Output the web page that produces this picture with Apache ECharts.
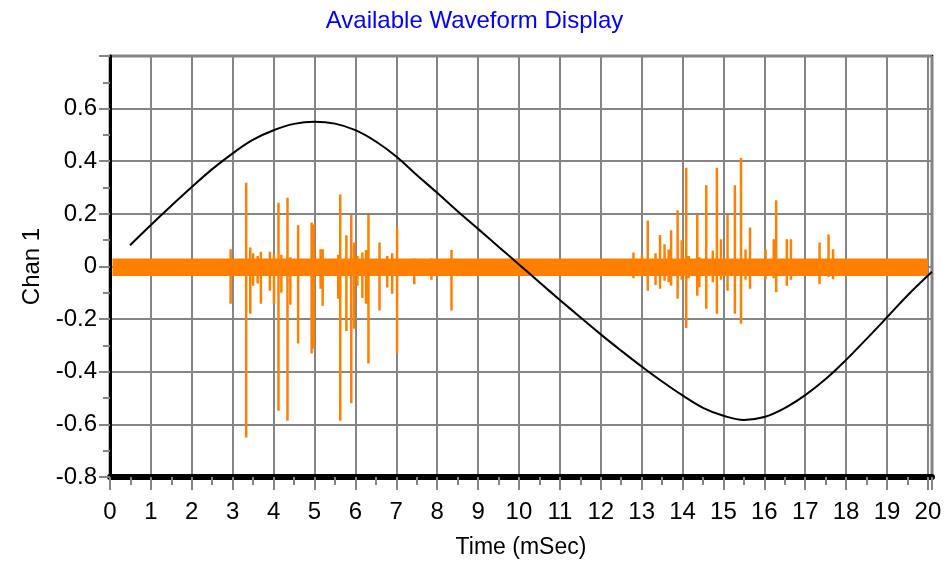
<!DOCTYPE html>
<html>
<head>
<meta charset="utf-8">
<script src="https://cdn.jsdelivr.net/npm/echarts@6/dist/echarts.min.js"></script>
<style>
html,body{margin:0;padding:0;background:#fff;}
#chart{width:949px;height:564px;}
</style>
</head>
<body>
<div id="chart"></div>
<script>
// ---- Data ----
const titleText = 'Available Waveform Display';
const xName = 'Time (mSec)';
const yName = 'Chan 1';

// Black reference waveform: [time (mSec), value]
const refTime  = [0.49, 1.0, 1.5, 2.0, 2.5, 3.0, 3.5, 4.0, 4.5, 5.0, 5.5, 6.0, 6.5, 7.0, 7.5, 8.0, 8.5, 9.0, 9.5, 10.0, 10.5, 11.0, 11.5, 12.0, 12.5, 13.0, 13.5, 14.0, 14.5, 15.0, 15.5, 16.0, 16.5, 17.0, 17.5, 18.0, 18.5, 19.0, 19.5, 20.1];
const refValue = [0.081, 0.158, 0.231, 0.302, 0.37, 0.43, 0.482, 0.518, 0.542, 0.55, 0.543, 0.518, 0.475, 0.418, 0.348, 0.28, 0.21, 0.143, 0.075, 0.008, -0.06, -0.127, -0.193, -0.258, -0.32, -0.38, -0.437, -0.49, -0.537, -0.567, -0.583, -0.572, -0.538, -0.489, -0.428, -0.355, -0.275, -0.193, -0.11, -0.02];

// Orange signal: continuous noise band [tStart, tEnd, top, bottom]
const noiseBand = [[0.06, 20.0, 0.03, -0.036]];

// Orange spikes: time, positive peak, negative peak
const spikeTime = [2.95, 3.33, 3.43, 3.50, 3.61, 3.69, 3.91, 4.01, 4.12, 4.19, 4.34, 4.41, 4.60, 4.93, 4.98, 5.15, 5.20, 5.58, 5.63, 5.78, 5.90, 5.97, 6.05, 6.17, 6.26, 6.32, 6.59, 6.78, 6.90, 7.02, 7.44, 7.86, 8.35,
  12.80, 13.01, 13.15, 13.34, 13.45, 13.56, 13.66, 13.72, 13.88, 13.98, 14.09, 14.15, 14.36, 14.41, 14.58, 14.74, 14.84, 14.94, 15.10, 15.28, 15.43, 15.54, 15.65, 16.03, 16.23, 16.29, 16.55, 16.65, 17.35, 17.57, 17.68];
const spikeTop = [0.066, 0.318, 0.072, 0.05, 0.04, 0.056, 0.056, 0.045, 0.242, 0.045, 0.261, 0.035, 0.157, 0.167, 0.16, 0.066, 0.066, 0.045, 0.274, 0.119, 0.196, 0.091, 0.04, 0.053, 0.063, 0.196, 0.091, 0.04, 0.05, 0.148, 0.03, 0.03, 0.063,
  0.053, 0.045, 0.175, 0.05, 0.12, 0.085, 0.065, 0.138, 0.214, 0.1, 0.375, 0.04, 0.196, 0.035, 0.309, 0.06, 0.375, 0.104, 0.196, 0.309, 0.412, 0.065, 0.148, 0.066, 0.104, 0.252, 0.104, 0.104, 0.091, 0.122, 0.066];
const spikeBottom = [-0.142, -0.65, -0.18, -0.073, -0.065, -0.142, -0.092, -0.142, -0.548, -0.10, -0.586, -0.145, -0.293, -0.331, -0.312, -0.085, -0.149, -0.123, -0.586, -0.245, -0.52, -0.237, -0.073, -0.12, -0.142, -0.369, -0.167, -0.08, -0.104, -0.329, -0.067, -0.05, -0.167,
  -0.045, -0.03, -0.092, -0.07, -0.085, -0.054, -0.06, -0.073, -0.123, -0.05, -0.234, -0.045, -0.111, -0.079, -0.161, -0.06, -0.18, -0.05, -0.092, -0.18, -0.218, -0.05, -0.085, -0.048, -0.045, -0.098, -0.073, -0.05, -0.067, -0.04, -0.048];

const xMin = 0, xMax = 20.1, xInterval = 1;
const yMin = -0.8, yMax = 0.8, yInterval = 0.2;

// ---- Build series data ----
const refData = refTime.map((t, i) => [t, refValue[i]]);
const spikeData = [];
spikeTime.forEach((t, i) => {
  spikeData.push([t, 0], [t, spikeTop[i]], [t, spikeBottom[i]], [t, 0]);
});

const ORANGE = '#FF8000';
const GRID = '#858585';
const FONT = '"Liberation Sans", Arial, sans-serif';

const chart = echarts.init(document.getElementById('chart'), null, {renderer: 'canvas'});
chart.setOption({
  animation: false,
  backgroundColor: '#fff',
  title: {
    text: titleText,
    left: 'center',
    top: 4,
    textStyle: {color: '#0000FF', fontSize: 24, fontWeight: 'normal', fontFamily: FONT}
  },
  grid: {
    left: 110, right: 17, top: 56, bottom: 85,
    show: true, borderColor: '#000', borderWidth: 2.5, backgroundColor: '#fff'
  },
  xAxis: {
    type: 'value',
    min: xMin, max: xMax, interval: xInterval,
    name: xName, nameLocation: 'middle', nameGap: 59,
    nameTextStyle: {color: '#000', fontSize: 23, fontFamily: FONT},
    axisLine: {show: true, onZero: false, lineStyle: {color: '#000', width: 6}},
    axisTick: {show: true, length: 13, lineStyle: {color: GRID, width: 2}},
    minorTick: {show: true, splitNumber: 2, length: 8, lineStyle: {color: GRID, width: 2}},
    axisLabel: {color: '#000', fontSize: 24, fontFamily: FONT, margin: 23, showMaxLabel: false},
    splitLine: {show: true, lineStyle: {color: GRID, width: 2}}
  },
  yAxis: {
    type: 'value',
    min: yMin, max: yMax, interval: yInterval,
    name: yName, nameLocation: 'middle', nameGap: 61,
    nameTextStyle: {color: '#000', fontSize: 24, fontFamily: FONT},
    axisLine: {show: true, onZero: false, lineStyle: {color: '#000', width: 3}},
    axisTick: {show: true, length: 11, lineStyle: {color: GRID, width: 2}},
    minorTick: {show: true, splitNumber: 2, length: 7, lineStyle: {color: GRID, width: 2}},
    axisLabel: {color: '#000', fontSize: 24, fontFamily: FONT, margin: 13, showMaxLabel: false},
    splitLine: {show: true, lineStyle: {color: GRID, width: 2}}
  },
  series: [
    {
      type: 'custom',
      data: noiseBand,
      encode: {x: [0, 1], y: [2, 3]},
      silent: true,
      renderItem: function (params, api) {
        const p0 = api.coord([api.value(0), api.value(2)]);
        const p1 = api.coord([api.value(1), api.value(3)]);
        return {
          type: 'rect',
          shape: {x: p0[0], y: p0[1], width: p1[0] - p0[0], height: p1[1] - p0[1]},
          style: {fill: ORANGE}
        };
      }
    },
    {
      type: 'line',
      data: spikeData,
      showSymbol: false,
      symbol: 'none',
      silent: true,
      lineStyle: {color: ORANGE, width: 2.5},
      z: 3
    },
    {
      type: 'line',
      data: refData,
      showSymbol: false,
      symbol: 'none',
      smooth: 0.4,
      silent: true,
      lineStyle: {color: '#000', width: 2},
      z: 4
    }
  ]
});
</script>
</body>
</html>
